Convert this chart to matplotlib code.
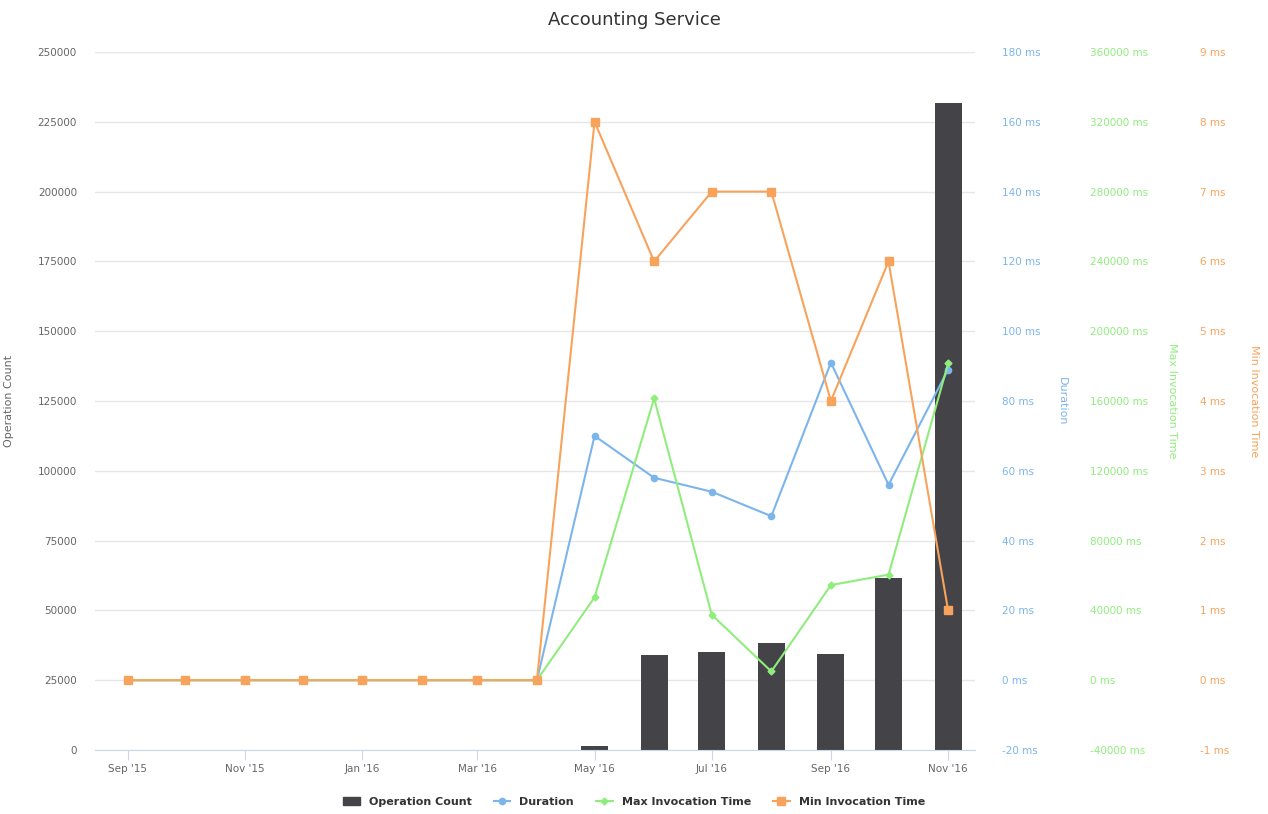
import matplotlib
matplotlib.use('Agg')
import matplotlib.pyplot as plt
import matplotlib.dates as mdates
import pandas as pd
from matplotlib.ticker import FuncFormatter, MultipleLocator

months = ['2015-09', '2015-10', '2015-11', '2015-12', '2016-01', '2016-02', '2016-03', '2016-04',
          '2016-05', '2016-06', '2016-07', '2016-08', '2016-09', '2016-10', '2016-11']
operation_count = [0, 0, 0, 0, 0, 0, 0, 0, 1500, 34000, 35100, 38300, 34400, 61600, 231700]
duration = [0, 0, 0, 0, 0, 0, 0, 0, 70, 58, 54, 47, 91, 56, 89]
max_invocation = [0, 0, 0, 0, 0, 0, 0, 0, 47500, 161500, 37500, 5000, 54500, 60500, 181500]
min_invocation = [0, 0, 0, 0, 0, 0, 0, 0, 8, 6, 7, 7, 4, 6, 1]

C_BAR = '#434348'
C_DUR = '#7cb5ec'
C_MAX = '#90ed7d'
C_MIN = '#f7a35c'


def make_graph():
    dates = pd.to_datetime(months)
    fig = plt.figure(figsize=(12.68, 8.14), dpi=100)
    ax = fig.add_axes([95 / 1268, 1 - 750 / 814, 880 / 1268, 698 / 814])

    ax.bar(dates, operation_count, width=14, color=C_BAR, zorder=2, label='Operation Count')
    ax.set_ylim(0, 250000)
    ax.yaxis.set_major_locator(MultipleLocator(25000))
    ax.grid(axis='y', color='#e6e6e6', linewidth=1, zorder=0)
    ax.set_axisbelow(True)
    ax.set_xlim(pd.Timestamp('2015-08-15'), pd.Timestamp('2016-11-15'))
    ax.xaxis.set_major_locator(mdates.MonthLocator(bymonth=[1, 3, 5, 7, 9, 11]))
    ax.xaxis.set_major_formatter(mdates.DateFormatter("%b '%y"))
    for s in ['top', 'right', 'left']:
        ax.spines[s].set_visible(False)
    ax.spines['bottom'].set_color('#ccd6eb')
    ax.tick_params(axis='x', colors='#ccd6eb', labelcolor='#666666', labelsize=7.5, length=7, pad=3)
    ax.tick_params(axis='y', length=0, labelcolor='#666666', labelsize=7.5, pad=13)
    ax.set_ylabel('Operation Count', fontsize=8, color='#666666')
    ax.yaxis.set_label_coords(-0.092, 0.5)

    # duration, max, min: each on its own right-hand axis
    specs = [
        (duration, C_DUR, 'o', 4.5, 'Duration', (-20, 180), 20, 1.0136, 1.104),
        (max_invocation, C_MAX, 'D', 3.5, 'Max Invocation Time', (-40000, 360000), 40000, 1.1136, 1.230),
        (min_invocation, C_MIN, 's', 5.5, 'Min Invocation Time', (-1, 9), 1, 1.2386, 1.323),
    ]
    handles = []
    for vals, col, mk, ms, name, lim, step, pos, lab in specs:
        t = ax.twinx()
        h, = t.plot(dates, vals, color=col, marker=mk, markersize=ms, linewidth=1.5, label=name)
        handles.append(h)
        t.set_ylim(*lim)
        t.yaxis.set_major_locator(MultipleLocator(step))
        t.yaxis.set_major_formatter(FuncFormatter(lambda v, p: '%d ms' % round(v)))
        for s in t.spines.values():
            s.set_visible(False)
        t.spines['right'].set_position(('axes', pos))
        t.tick_params(axis='y', length=0, labelcolor=col, labelsize=7.5, pad=10.5)
        t.set_ylabel(name, color=col, fontsize=8, rotation=270)
        t.yaxis.set_label_coords(lab, 0.5)

    bar_handle = plt.Rectangle((0, 0), 1, 1, color=C_BAR)
    fig.legend([bar_handle] + handles, ['Operation Count', 'Duration', 'Max Invocation Time', 'Min Invocation Time'],
               loc='center', bbox_to_anchor=(0.5, 1 - 802 / 814), ncol=4, frameon=False,
               prop={'weight': 'bold', 'size': 8}, handlelength=1.5, columnspacing=2, labelcolor='#333333')
    fig.suptitle('Accounting Service', y=1 - 20 / 814, va='center', fontsize=13, color='#333333')
    plt.savefig('out.png', dpi=100)


if __name__ == '__main__':
    make_graph()
